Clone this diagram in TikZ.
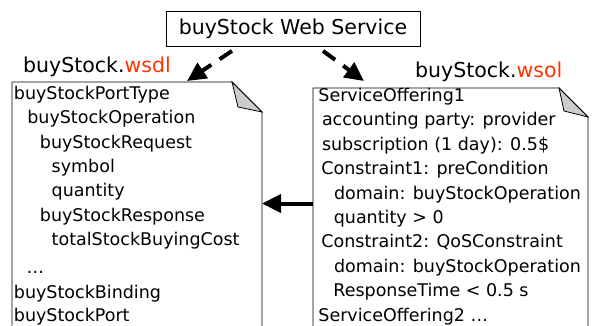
\documentclass[tikz,border=0pt]{standalone}
\usepackage{fontspec}
\setmainfont{DejaVu Sans}
\usetikzlibrary{arrows.meta, positioning}
\definecolor{extred}{HTML}{FF3300}
\definecolor{foldgray}{HTML}{CCCCCC}
\tikzset{
  >={Triangle[length=19pt, width=18pt]},
  every picture/.style={line cap=butt, line join=miter},
  doc/.style={draw=black, line width=0.8pt},
  fold/.style={draw=black, line width=0.8pt, fill=foldgray},
  docline/.style={anchor=base west, inner sep=0pt, font=\fontsize{17.5}{24}\selectfont},
  doclabel/.style={anchor=base west, inner sep=0pt, font=\fontsize{20.5}{24}\selectfont},
  linkarrow/.style={->, line width=4pt},
  maparrow/.style={->, line width=4pt, dash pattern=on 15pt off 10pt},
}

\begin{document}
\begin{tikzpicture}[x=1pt, y=-1pt]
  \useasboundingbox (0,0) rectangle (597,325);
  \clip (0,0) rectangle (597,325);
  % the web service
  \node[draw, line width=0.8pt, minimum width=254pt, minimum height=35pt, inner sep=0pt,
        font=\fontsize{20.5}{24}\selectfont] (ws) at (293,28.5) {buyStock Web Service};
  % wsdl document, runs off the bottom edge
  \draw[doc] (12,335) -- (12,82) -- (232,82) -- (262,112) -- (262,335);
  \draw[fold] (232,82) -- (238,107) -- (262,112) -- cycle;
  \node[doclabel] (wsdl-name) at (23,72.5) {buyStock.\textcolor{extred}{wsdl}};
  \foreach \y/\x/\txt [count=\i] in {
      99.3/13.7/buyStockPortType,
      123.7/27.1/buyStockOperation,
      148.1/39.7/buyStockRequest,
      172.5/51.5/symbol,
      196.9/51.5/quantity,
      221.3/39.7/buyStockResponse,
      245.7/51.5/totalStockBuyingCost,
      273.5/26.5/{\ldots},
      298.5/13.7/buyStockBinding,
      321.5/13.7/buyStockPort}
    \node[docline] (wsdl-\i) at (\x,\y) {\txt};
  % wsol document
  \draw[doc] (313,335) -- (313,88) -- (559,88) -- (588,117) -- (588,335);
  \draw[fold] (559,88) -- (564,111) -- (588,117) -- cycle;
  \node[doclabel] (wsol-name) at (415,77.3) {buyStock.\textcolor{extred}{wsol}};
  \foreach \y/\x/\txt [count=\i] in {
      101.5/318.2/ServiceOffering1,
      125.9/321.8/accounting party: provider,
      150.3/321.8/subscription (1 day): 0.5\$,
      174.7/321.2/Constraint1: preCondition,
      199.1/333.8/domain: buyStockOperation,
      223.5/333.6/quantity > 0,
      247.9/321.2/Constraint2: QoSConstraint,
      272.3/333.8/domain: buyStockOperation,
      296.7/333.2/ResponseTime < 0.5 s,
      321.1/318.2/{ServiceOffering2 \ldots}}
    \node[docline] (wsol-\i) at (\x,\y) {\txt};
  % connectors
  \coordinate (wsdl-tip) at (187,81);
  \coordinate (wsol-tip) at (364,81);
  \coordinate (wsdl-east) at (262,203.5);
  \coordinate (wsol-west) at (313,203.5);
  \draw[maparrow] ([xshift=-61pt, yshift=-4.5pt]ws.south) -- (wsdl-tip);
  \draw[maparrow] ([xshift=30pt, yshift=-4.5pt]ws.south) -- (wsol-tip);
  \draw[linkarrow] (wsol-west) -- (wsdl-east);
\end{tikzpicture}
\end{document}
